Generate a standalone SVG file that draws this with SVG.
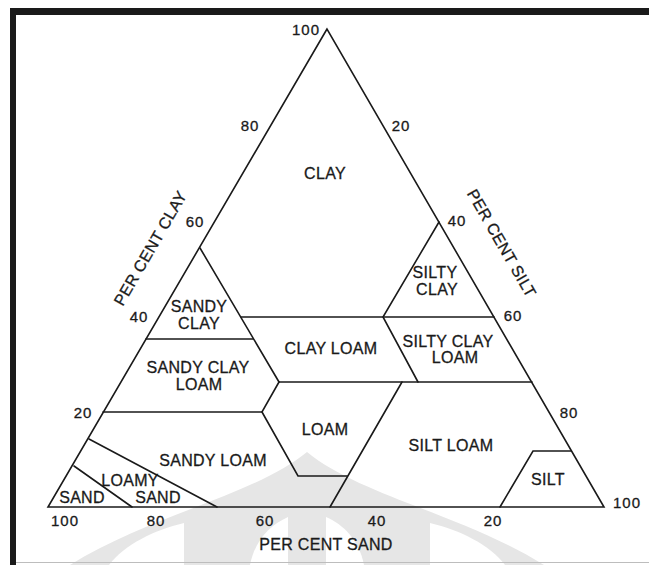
<svg xmlns="http://www.w3.org/2000/svg" width="649" height="565" viewBox="0 0 649 565">
<style>
.t{font-family:"Liberation Sans",Arial,sans-serif;font-size:16px;letter-spacing:0.3px;fill:#1a1a1a;stroke:#1a1a1a;stroke-width:0.3;text-anchor:middle}
.n{font-family:"Liberation Sans",Arial,sans-serif;font-size:15px;letter-spacing:1px;fill:#1a1a1a;stroke:#1a1a1a;stroke-width:0.3;text-anchor:middle}
.ln{stroke:#1a1a1a;stroke-width:1.6;fill:none;stroke-linejoin:miter;stroke-linecap:round}
.wm{fill:#e6e6e6}
.wh{fill:#ffffff}
</style>
<rect x="0" y="0" width="649" height="565" fill="#ffffff"/>
<g id="watermark">
<path class="wm" d="M70,565 C150,515 255,495 307,452 C359,495 464,515 544,565 Z"/>
<path class="wh" d="M250,565 C255,540 270,525 288,517 L288,565 Z"/>
<path class="wh" d="M364,565 C359,540 344,525 326,517 L326,565 Z"/>
<path class="wh" d="M430,523 C460,530 490,545 505,565 L430,565 Z"/>
<path class="wh" d="M184,523 C154,530 124,545 109,565 L184,565 Z"/>
</g>
<g id="frame">
<rect x="10" y="8" width="639" height="7" fill="#1a1a1a"/>
<rect x="10" y="8" width="6" height="557" fill="#1a1a1a"/>
<line x1="16" y1="562.5" x2="649" y2="562.5" stroke="#bdbdbd" stroke-width="1"/>
</g>
<g id="connectors">
<path class="ln" d="M327,29 L48,507 L604,507 Z"/>
<path class="ln" d="M200,248 L279,382"/>
<path class="ln" d="M146,339 L253,339"/>
<path class="ln" d="M241,317 L494,317"/>
<path class="ln" d="M439,222 L383,317 L418,382"/>
<path class="ln" d="M279,382 L532,382"/>
<path class="ln" d="M103,412 L262,412 L279,382"/>
<path class="ln" d="M262,412 L298,476 L347,476"/>
<path class="ln" d="M402,382 L330,507"/>
<path class="ln" d="M500,507 L533,451 L571,451"/>
<path class="ln" d="M89,439 L217,507"/>
<path class="ln" d="M74,466 L132,507"/>
</g>
<g id="axis-labels">
<text class="n" x="306" y="35">100</text>
<text class="n" x="250" y="131">80</text>
<text class="n" x="195" y="227">60</text>
<text class="n" x="139" y="322">40</text>
<text class="n" x="83" y="418">20</text>
<text class="n" x="401" y="131">20</text>
<text class="n" x="457" y="226">40</text>
<text class="n" x="513" y="321">60</text>
<text class="n" x="569" y="418">80</text>
<text class="n" x="627" y="508">100</text>
<text class="n" x="65" y="526">100</text>
<text class="n" x="156" y="526">80</text>
<text class="n" x="265" y="526">60</text>
<text class="n" x="377" y="526">40</text>
<text class="n" x="493" y="526">20</text>
<text class="t" x="326" y="550">PER CENT SAND</text>
<text class="t" transform="translate(150,248) rotate(-60)" x="0" y="6">PER CENT CLAY</text>
<text class="t" transform="translate(502,243) rotate(60)" x="0" y="6">PER CENT SILT</text>
</g>
<g id="clay"><text class="t" x="325" y="179">CLAY</text></g>
<g id="silty-clay"><text class="t" x="435" y="278">SILTY</text><text class="t" x="437" y="295">CLAY</text></g>
<g id="sandy-clay"><text class="t" x="199" y="312">SANDY</text><text class="t" x="199" y="329">CLAY</text></g>
<g id="clay-loam"><text class="t" x="331" y="354">CLAY LOAM</text></g>
<g id="silty-clay-loam"><text class="t" x="448" y="347">SILTY CLAY</text><text class="t" x="455" y="363">LOAM</text></g>
<g id="sandy-clay-loam"><text class="t" x="198" y="373">SANDY CLAY</text><text class="t" x="199" y="390">LOAM</text></g>
<g id="loam"><text class="t" x="325" y="435">LOAM</text></g>
<g id="silt-loam"><text class="t" x="451" y="451">SILT LOAM</text></g>
<g id="sandy-loam"><text class="t" x="213" y="466">SANDY LOAM</text></g>
<g id="silt"><text class="t" x="548" y="485">SILT</text></g>
<g id="loamy-sand"><text class="t" x="130" y="486">LOAMY</text><text class="t" x="158" y="503">SAND</text></g>
<g id="sand"><text class="t" x="82" y="503">SAND</text></g>
</svg>
